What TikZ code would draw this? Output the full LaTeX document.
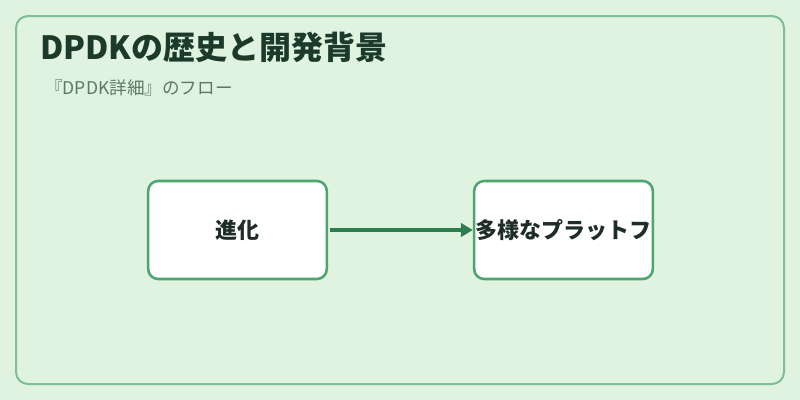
\documentclass[tikz,border=0pt]{standalone}
\usepackage{fontspec}
\setmainfont{Noto Sans CJK JP}
\usetikzlibrary{arrows.meta}
\definecolor{bgc}{HTML}{E0F2E0}
\definecolor{framec}{HTML}{7FBF96}
\definecolor{boxc}{HTML}{4FA56E}
\definecolor{arrc}{HTML}{2E7D4F}
\definecolor{titlec}{HTML}{1B3A2A}
\definecolor{subc}{HTML}{5A7A68}
\definecolor{txtc}{HTML}{1E2E26}
\tikzset{
  stepbox/.style={draw=boxc, line width=1.9pt, fill=white, rounded corners=7.5pt, minimum width=134pt, minimum height=73.5pt, inner sep=0pt, text=txtc, font=\fontsize{16.5pt}{20pt}\selectfont\bfseries},
  flow/.style={draw=arrc, line width=2.6pt, -{Triangle[length=9pt,width=10pt]}}
}
\begin{document}
\begin{tikzpicture}[x=0.75pt,y=-0.75pt]
\useasboundingbox (0,0) rectangle (800,400);
\fill[bgc] (0,0) rectangle (800,400);
\draw[framec, line width=1.5pt, rounded corners=9pt] (16,16) rectangle (784,384);
\node[anchor=base west, inner sep=0pt, text=titlec, font=\fontsize{24pt}{28pt}\selectfont\bfseries] (title) at (40,59) {DPDKの歴史と開発背景};
\node[anchor=base west, inner sep=0pt, text=subc, font=\fontsize{13.2pt}{15pt}\selectfont] (sub) at (45,94) {『DPDK詳細』のフロー};
\node[stepbox] (a) at (237.5,230) {\makebox[0pt][c]{進化}};
\node[stepbox] (b) at (563.5,230) {\makebox[0pt][c]{多様なプラットフ}};
\draw[flow] (a.east) ++(1.5pt,0) coordinate (s) (s) -- (b.west);
\end{tikzpicture}
\end{document}
